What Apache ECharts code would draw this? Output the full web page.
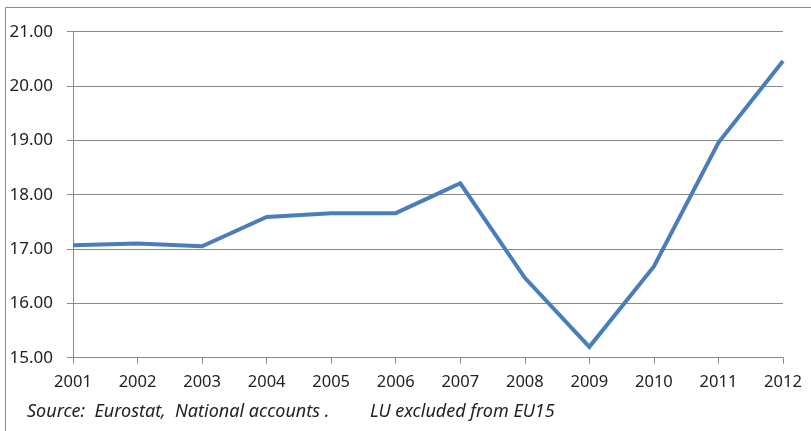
<!DOCTYPE html>
<html>
<head>
<meta charset="utf-8">
<script src="https://cdn.jsdelivr.net/npm/echarts@6/dist/echarts.min.js"></script>
<style>
  html, body { margin: 0; padding: 0; background: #fff; }
  #chart { width: 811px; height: 431px; }
</style>
</head>
<body>
<div id="chart"></div>
<script>
// years on the x axis
var years = ['2001', '2002', '2003', '2004', '2005', '2006', '2007', '2008', '2009', '2010', '2011', '2012'];
// values
var values = [17.07, 17.10, 17.05, 17.59, 17.66, 17.66, 18.21, 16.47, 15.20, 16.68, 18.96, 20.46];
var sourceNote = 'Source:  Eurostat,  National accounts .';
var luNote = 'LU excluded from EU15';

var myChart = echarts.init(document.getElementById('chart'), null, { renderer: 'canvas' });
var font = 'Noto Sans';

var option = {
  animation: false,
  backgroundColor: '#fff',
  grid: { left: 73, right: 28, top: 31.7, bottom: 73.3, containLabel: false },
  xAxis: {
    type: 'category',
    data: years,
    boundaryGap: false,
    axisLine: { lineStyle: { color: '#888', width: 1 } },
    axisTick: { show: true, length: 6, alignWithLabel: true, lineStyle: { color: '#888' } },
    axisLabel: { color: '#222', fontFamily: font, fontSize: 16.5, margin: 16, interval: 0 },
    splitLine: { show: false }
  },
  yAxis: {
    type: 'value',
    min: 15,
    max: 21,
    interval: 1,
    axisLine: { show: true, lineStyle: { color: '#888', width: 1 } },
    axisTick: { show: true, length: 6, lineStyle: { color: '#888' } },
    axisLabel: {
      color: '#222', fontFamily: font, fontSize: 17, margin: 20,
      formatter: function (v) { return v.toFixed(2); }
    },
    splitLine: { show: true, lineStyle: { color: '#888', width: 1 } }
  },
  series: [{
    type: 'line',
    data: values,
    symbol: 'none',
    lineStyle: { color: '#4a7ebb', width: 4, join: 'miter' },
    itemStyle: { color: '#4a7ebb' }
  }],
  graphic: [
    {
      type: 'rect',
      shape: { x: 5.5, y: 7.5, width: 900, height: 600 },
      style: { fill: 'none', stroke: '#8c8c8c', lineWidth: 1 },
      silent: true
    },
    {
      type: 'text',
      left: 27,
      top: 403,
      style: { text: sourceNote, fill: '#222', font: 'italic 18px "Noto Sans"' }
    },
    {
      type: 'text',
      left: 370,
      top: 403,
      style: { text: luNote, fill: '#222', font: 'italic 18px "Noto Sans"' }
    }
  ]
};
myChart.setOption(option);
</script>
</body>
</html>
